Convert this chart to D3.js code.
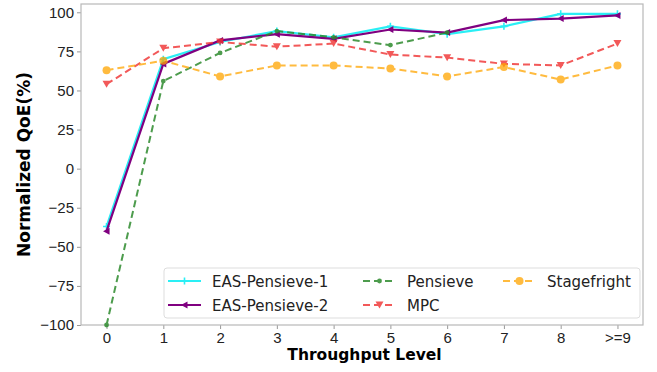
<!DOCTYPE html>
<html>
<head>
<meta charset="utf-8">
<script src="https://cdn.jsdelivr.net/npm/d3@7"></script>
<style>
  body { margin: 0; background: #fff; }
  svg { font-family: "DejaVu Sans", sans-serif; }
</style>
</head>
<body>
<svg id="chart" width="657" height="372"></svg>
<script>
// Throughput levels on the x axis
const levels = ["0", "1", "2", "3", "4", "5", "6", "7", "8", ">=9"];
const yTicks = [-100, -75, -50, -25, 0, 25, 50, 75, 100];

// Normalized QoE (%) per throughput level
const easPensieve1 = [-37, 70, 81, 88, 84, 91, 86, 91, 99, 99];
const easPensieve2 = [-40, 67, 82, 86, 83, 89, 87, 95, 96, 98];
const pensieve     = [-100, 56, 74, 88, 84, 79, 87];
const mpc          = [54, 77, 81, 78, 80, 73, 71, 67, 66, 80];
const stagefright  = [63, 69, 59, 66, 66, 64, 59, 65, 57, 66];

const series = [
  { name: "EAS-Pensieve-1", values: easPensieve1, color: "#14eef5", dash: null, marker: "plus", opacity: 0.9, width: 2.2 },
  { name: "EAS-Pensieve-2", values: easPensieve2, color: "#800080", dash: null, marker: "tri-left", opacity: 1, width: 2.2 },
  { name: "Pensieve", values: pensieve, color: "#2e8b2e", dash: "7,4", marker: "dot", opacity: 0.85, width: 2 },
  { name: "MPC", values: mpc, color: "#f03030", dash: "7,4", marker: "tri-down", opacity: 0.8, width: 2 },
  { name: "Stagefright", values: stagefright, color: "#ffa500", dash: "7,4", marker: "circle", opacity: 0.75, width: 2 }
];

const svg = d3.select("#chart");
const margin = { left: 81, right: 14, top: 4, bottom: 47 };
const W = 657, H = 372;

const x = d3.scaleLinear().domain([-0.45, 9.45]).range([margin.left, W - margin.right]);
const y = d3.scaleLinear().domain([-100, 105.3]).range([H - margin.bottom, margin.top]);

// Axes
const xAxis = d3.axisBottom(x).tickValues(d3.range(levels.length)).tickFormat(i => levels[i]).tickSize(4).tickPadding(3);
const yAxis = d3.axisLeft(y).tickValues(yTicks).tickFormat(d => d < 0 ? "\u2212" + Math.abs(d) : d).tickSize(4).tickPadding(3);

const gx = svg.append("g").attr("transform", `translate(0,${H - margin.bottom})`).call(xAxis);
const gy = svg.append("g").attr("transform", `translate(${margin.left},0)`).call(yAxis);
[gx, gy].forEach(g => {
  g.select(".domain").remove();
  g.selectAll(".tick line").attr("stroke", "#999");
  g.selectAll(".tick text").attr("font-size", 15).attr("fill", "#222");
});

// Plot frame
svg.append("rect")
  .attr("x", margin.left).attr("y", margin.top)
  .attr("width", W - margin.right - margin.left)
  .attr("height", H - margin.bottom - margin.top)
  .attr("fill", "none").attr("stroke", "#b8b8b8").attr("stroke-width", 1.2);

// Axis titles
svg.append("text")
  .attr("x", 364.5).attr("y", 360)
  .attr("text-anchor", "middle").attr("font-size", 15.5).attr("font-weight", "bold")
  .text("Throughput Level");
svg.append("text")
  .attr("transform", `translate(30,${(margin.top + H - margin.bottom) / 2}) rotate(-90)`)
  .attr("text-anchor", "middle").attr("font-size", 17).attr("font-weight", "bold")
  .text("Normalized QoE(%)");

// Marker shapes
function drawMarker(g, type, cx, cy, color) {
  if (type === "plus") {
    g.append("path").attr("d", `M${cx - 3.5},${cy}H${cx + 3.5}M${cx},${cy - 3.5}V${cy + 3.5}`)
      .attr("stroke", color).attr("stroke-width", 1.6);
  } else if (type === "tri-left") {
    g.append("path").attr("d", `M${cx - 3.5},${cy}L${cx + 3},${cy - 3.5}L${cx + 3},${cy + 3.5}Z`).attr("fill", color);
  } else if (type === "dot") {
    g.append("circle").attr("cx", cx).attr("cy", cy).attr("r", 2.4).attr("fill", color);
  } else if (type === "tri-down") {
    g.append("path").attr("d", `M${cx - 4},${cy - 3.5}L${cx + 4},${cy - 3.5}L${cx},${cy + 3.5}Z`).attr("fill", color);
  } else if (type === "circle") {
    g.append("circle").attr("cx", cx).attr("cy", cy).attr("r", 4).attr("fill", color);
  }
}

const line = d3.line().x((d, i) => x(i)).y(d => y(d));
const plot = svg.append("g");

series.forEach(s => {
  const g = plot.append("g").attr("opacity", s.opacity);
  g.append("path")
    .attr("d", line(s.values))
    .attr("fill", "none").attr("stroke", s.color).attr("stroke-width", s.width)
    .attr("stroke-dasharray", s.dash);
  s.values.forEach((v, i) => drawMarker(g, s.marker, x(i), y(v), s.color));
});

// Legend
const legend = svg.append("g");
legend.append("rect")
  .attr("x", 164).attr("y", 268).attr("width", 476).attr("height", 50)
  .attr("rx", 3).attr("fill", "#fff").attr("fill-opacity", 0.85)
  .attr("stroke", "#ddd");

const legendPos = [
  { x: 168, y: 281 }, { x: 168, y: 305 },
  { x: 363, y: 281 }, { x: 363, y: 305 },
  { x: 503, y: 281 }
];
series.forEach((s, i) => {
  const p = legendPos[i];
  const g = legend.append("g").attr("opacity", s.opacity);
  g.append("line").attr("x1", p.x).attr("x2", p.x + 33).attr("y1", p.y).attr("y2", p.y)
    .attr("stroke", s.color).attr("stroke-width", s.width).attr("stroke-dasharray", s.dash);
  drawMarker(g, s.marker, p.x + 16.5, p.y, s.color);
  legend.append("text").attr("x", p.x + 44).attr("y", p.y + 5.5)
    .attr("font-size", 15).attr("fill", "#222").text(s.name);
});
</script>
</body>
</html>
